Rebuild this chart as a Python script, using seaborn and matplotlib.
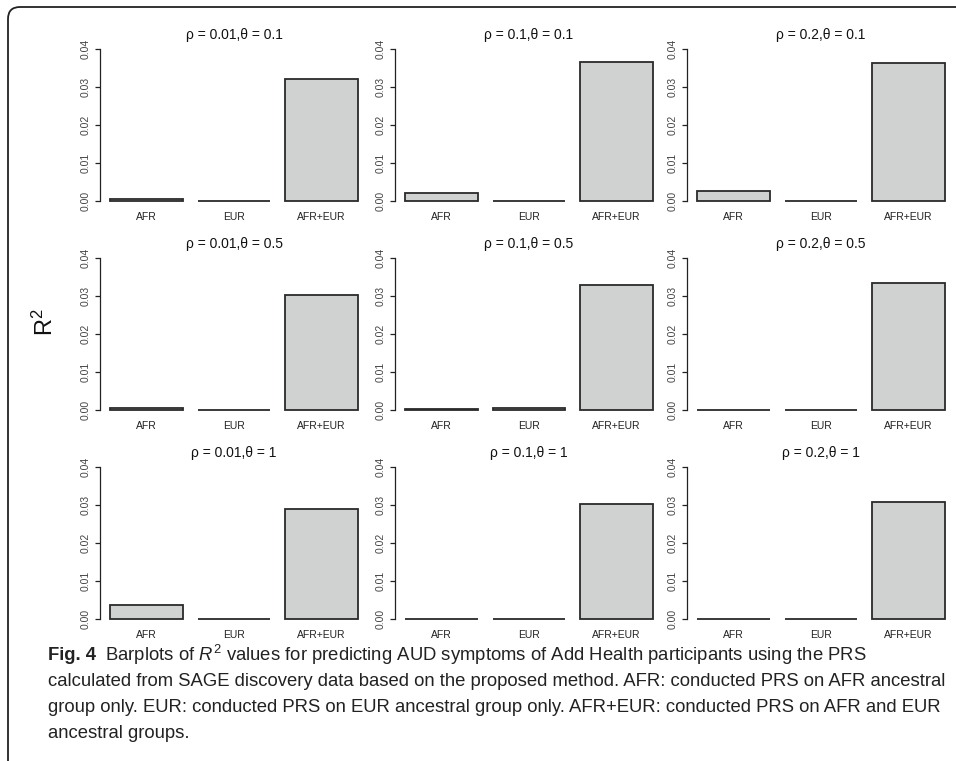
import numpy as np
import pandas as pd
import matplotlib
matplotlib.use('Agg')
import matplotlib.pyplot as plt
import seaborn as sns
from matplotlib.patches import FancyBboxPatch
from matplotlib.transforms import IdentityTransform

# panel grid: rows = theta, columns = rho
rho_vals = ['0.01', '0.1', '0.2']
theta_vals = ['0.1', '0.5', '1']
groups = ['AFR', 'EUR', 'AFR+EUR']

# R^2 values, [theta][rho]
r2_afr = [[0.0005, 0.0022, 0.0027],
          [0.0006, 0.0002, 0.0001],
          [0.0037, 0.0001, 0.0001]]
r2_eur = [[0.0001, 0.0001, 0.0001],
          [0.00005, 0.0004, 0.0001],
          [0.0001, 0.0001, 0.0001]]
r2_both = [[0.0322, 0.0367, 0.0364],
           [0.0302, 0.0329, 0.0334],
           [0.0290, 0.0303, 0.0307]]

yticks = [0.00, 0.01, 0.02, 0.03, 0.04]

caption_lines = [
    'Barplots of $R^2$ values for predicting AUD symptoms of Add Health participants using the PRS',
    'calculated from SAGE discovery data based on the proposed method. AFR: conducted PRS on AFR ancestral',
    'group only. EUR: conducted PRS on EUR ancestral group only. AFR+EUR: conducted PRS on AFR and EUR',
    'ancestral groups.',
]

rows = []
for i, th in enumerate(theta_vals):
    for j, rh in enumerate(rho_vals):
        for g, v in zip(groups, [r2_afr[i][j], r2_eur[i][j], r2_both[i][j]]):
            rows.append({'rho': rh, 'theta': th, 'group': g, 'r2': v})
df = pd.DataFrame(rows)

sns.set_theme(style='white')
plt.rcParams['font.family'] = ['Liberation Sans', 'DejaVu Sans']
plt.rcParams['mathtext.fontset'] = 'custom'
plt.rcParams['mathtext.rm'] = 'Liberation Sans'
plt.rcParams['mathtext.it'] = 'Liberation Sans:italic'

W, H = 956, 761
fig = plt.figure(figsize=(W / 100, H / 100), dpi=100)

lefts = [100, 395, 687]
zeros = [201, 410, 619]
aw, ah = 268, 164

for i, th in enumerate(theta_vals):
    for j, rh in enumerate(rho_vals):
        bottom = zeros[i] + 6
        ax = fig.add_axes([lefts[j] / W, 1 - bottom / H, aw / W, ah / H])
        sub = df[(df['rho'] == rh) & (df['theta'] == th)]
        sns.barplot(data=sub, x='group', y='r2', order=groups, ax=ax,
                    color='#d0d2d1', saturation=1, width=1 / 1.2,
                    edgecolor='#2a2a2a', linewidth=1.3)
        ax.set_xlim(-0.53, 2.53)
        ax.set_ylim(-0.0016, 0.0416)
        ax.set_xlabel('')
        ax.set_ylabel('')
        ax.set_title(f'\u03c1 = {rh},\u03b8 = {th}', fontsize=10, pad=3, color='#111111')
        for s in ['top', 'right', 'bottom']:
            ax.spines[s].set_visible(False)
        ax.spines['left'].set_bounds(0, 0.04)
        ax.spines['left'].set_color('#222222')
        ax.spines['left'].set_linewidth(0.9)
        ax.set_yticks(yticks)
        ax.set_yticklabels([f'{t:.2f}' for t in yticks], rotation=90, va='center')
        ax.tick_params(axis='y', length=3.6, width=0.9, color='#222222',
                       labelsize=7.5, pad=3.5, labelcolor='#444444', left=True)
        ax.tick_params(axis='x', length=0, labelsize=7.5, pad=3.5, labelcolor='#222222')

fig.text(45 / W, 1 - 322 / H, r'$\mathregular{R^2}$', rotation=90, fontsize=17,
         ha='center', va='center', color='#111111')

# caption
cap_x = 48
cap_y = [655, 681, 707, 733]
cap_fs = 13.3
fig.canvas.draw()
r = fig.canvas.get_renderer()
t0 = fig.text(cap_x / W, 1 - cap_y[0] / H, 'Fig. 4', fontsize=cap_fs, fontweight='bold',
              va='center', color='#222222')
bb = t0.get_window_extent(renderer=r)
fig.text((bb.x1 + 9) / W, 1 - cap_y[0] / H, caption_lines[0], fontsize=cap_fs,
         va='center', color='#222222')
for line, y in zip(caption_lines[1:], cap_y[1:]):
    fig.text(cap_x / W, 1 - y / H, line, fontsize=cap_fs, va='center', color='#222222')

# rounded frame open to the right and bottom
frame = FancyBboxPatch((8, -60), 1100, H - 7 + 60, boxstyle='round,pad=0,rounding_size=12',
                       transform=IdentityTransform(), fill=False, edgecolor='#222222',
                       linewidth=1.3)
fig.patches.append(frame)

fig.savefig('out.png', dpi=100)
